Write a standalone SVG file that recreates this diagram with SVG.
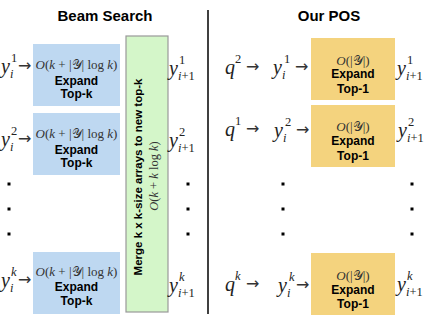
<svg xmlns="http://www.w3.org/2000/svg" width="428" height="321" viewBox="0 0 428 321">
<style>
.title{font-family:"Liberation Sans",Arial,sans-serif;font-weight:bold;font-size:15px;fill:#000;text-anchor:middle}
.lbl{font-family:"Liberation Sans",Arial,sans-serif;font-weight:bold;font-size:12px;fill:#000;text-anchor:middle}
.m{font-family:"Liberation Serif","DejaVu Serif",serif;fill:#222}
.mi{font-style:italic}
.big{font-size:20px}
.sm{font-size:12.5px}
.fx{font-size:13px;text-anchor:middle;fill:#333}
.arr{font-family:"DejaVu Sans","Liberation Serif",sans-serif;font-size:16px;fill:#333}
.blue{fill:#bed8f1}
.yel{fill:#f4d37e}
.dot{fill:#000}
</style>
<text class="title" x="105" y="21">Beam Search</text>
<text class="title" x="329" y="21">Our POS</text>
<g id="divider"><line x1="208" y1="10" x2="208" y2="314" stroke="#000" stroke-width="1.5"/></g>

<g id="merge">
<rect x="126" y="36" width="42" height="276" fill="#d4f6c9" stroke="#999" stroke-width="1.2"/>
<text class="lbl" style="font-size:11.5px" transform="translate(142,177) rotate(-90)" x="0" y="0">Merge k x k-size arrays to new top-k</text>
<text class="m fx" style="font-size:12.5px" transform="translate(158,176) rotate(-90)" x="0" y="0"><tspan class="mi">O</tspan>(<tspan class="mi">k</tspan> + <tspan class="mi">k</tspan> log <tspan class="mi">k</tspan>)</text>
</g>

<g id="beam1">
<rect class="blue" x="33" y="44" width="87" height="62"/>
<text class="m fx" x="76.5" y="69"><tspan class="mi">O</tspan>(<tspan class="mi">k</tspan> + |𝒴| log <tspan class="mi">k</tspan>)</text>
<text class="lbl" x="76.5" y="85">Expand</text>
<text class="lbl" x="76.5" y="98">Top-k</text>
</g>
<g id="beam2">
<rect class="blue" x="33" y="113" width="87" height="62"/>
<text class="m fx" x="76.5" y="138"><tspan class="mi">O</tspan>(<tspan class="mi">k</tspan> + |𝒴| log <tspan class="mi">k</tspan>)</text>
<text class="lbl" x="76.5" y="154">Expand</text>
<text class="lbl" x="76.5" y="167">Top-k</text>
</g>
<g id="beam3">
<rect class="blue" x="33" y="252" width="87" height="62"/>
<text class="m fx" x="76.5" y="276"><tspan class="mi">O</tspan>(<tspan class="mi">k</tspan> + |𝒴| log <tspan class="mi">k</tspan>)</text>
<text class="lbl" x="76.5" y="291">Expand</text>
<text class="lbl" x="76.5" y="305">Top-k</text>
</g>

<g id="pos1">
<rect class="yel" x="311" y="38" width="84" height="62"/>
<text class="m fx" x="353" y="65"><tspan class="mi">O</tspan>(|𝒴|)</text>
<text class="lbl" x="353" y="78">Expand</text>
<text class="lbl" x="353" y="93">Top-1</text>
</g>
<g id="pos2">
<rect class="yel" x="311" y="105" width="84" height="62"/>
<text class="m fx" x="353" y="131"><tspan class="mi">O</tspan>(|𝒴|)</text>
<text class="lbl" x="353" y="145">Expand</text>
<text class="lbl" x="353" y="160">Top-1</text>
</g>
<g id="pos3">
<rect class="yel" x="311" y="253" width="84" height="62"/>
<text class="m fx" x="353" y="280"><tspan class="mi">O</tspan>(|𝒴|)</text>
<text class="lbl" x="353" y="294">Expand</text>
<text class="lbl" x="353" y="308">Top-1</text>
</g>

<!-- beam input labels -->
<g id="in1"><text class="m mi big" x="1" y="73">y</text><text class="m sm" x="11" y="62">1</text><text class="m mi sm" x="10" y="78">i</text><text class="arr" x="18" y="71">→</text></g>
<g id="in2"><text class="m mi big" x="1" y="146">y</text><text class="m sm" x="11" y="135">2</text><text class="m mi sm" x="10" y="151">i</text><text class="arr" x="18" y="144">→</text></g>
<g id="in3"><text class="m mi big" x="1" y="287">y</text><text class="m mi sm" x="11" y="276">k</text><text class="m mi sm" x="10" y="292">i</text><text class="arr" x="18" y="285">→</text></g>

<!-- beam output labels -->
<g id="out1"><text class="m mi big" x="169" y="75">y</text><text class="m sm" x="179" y="64">1</text><text class="m mi sm" x="178" y="80">i<tspan font-style="normal">+1</tspan></text></g>
<g id="out2"><text class="m mi big" x="169" y="147">y</text><text class="m sm" x="179" y="136">2</text><text class="m mi sm" x="178" y="152">i<tspan font-style="normal">+1</tspan></text></g>
<g id="out3"><text class="m mi big" x="169" y="292">y</text><text class="m mi sm" x="179" y="281">k</text><text class="m mi sm" x="178" y="297">i<tspan font-style="normal">+1</tspan></text></g>

<!-- POS input labels -->
<g id="q1"><text class="m mi big" x="225" y="74">q</text><text class="m sm" x="235" y="63">2</text><text class="arr" x="246" y="72">→</text>
<text class="m mi big" x="273" y="74">y</text><text class="m sm" x="284" y="63">1</text><text class="m mi sm" x="282" y="79">i</text><text class="arr" x="295" y="72">→</text></g>
<g id="q2"><text class="m mi big" x="225" y="136">q</text><text class="m sm" x="235" y="125">1</text><text class="arr" x="246" y="134">→</text>
<text class="m mi big" x="274" y="137">y</text><text class="m sm" x="285" y="126">2</text><text class="m mi sm" x="283" y="142">i</text><text class="arr" x="296" y="135">→</text></g>
<g id="q3"><text class="m mi big" x="225" y="291">q</text><text class="m mi sm" x="235" y="280">k</text><text class="arr" x="246" y="289">→</text>
<text class="m mi big" x="278" y="292">y</text><text class="m mi sm" x="289" y="281">k</text><text class="m mi sm" x="287" y="297">i</text><text class="arr" x="296" y="290">→</text></g>

<!-- POS output labels -->
<g id="pout1"><text class="m mi big" x="397" y="75">y</text><text class="m sm" x="407" y="64">1</text><text class="m mi sm" x="406" y="80">i<tspan font-style="normal">+1</tspan></text></g>
<g id="pout2"><text class="m mi big" x="398" y="137">y</text><text class="m sm" x="408" y="126">2</text><text class="m mi sm" x="407" y="142">i<tspan font-style="normal">+1</tspan></text></g>
<g id="pout3"><text class="m mi big" x="397" y="291">y</text><text class="m mi sm" x="407" y="280">k</text><text class="m mi sm" x="406" y="296">i<tspan font-style="normal">+1</tspan></text></g>

<g id="dots">
<rect class="dot" x="7.5" y="182.5" width="3" height="3"/><rect class="dot" x="7.5" y="207.5" width="3" height="3"/><rect class="dot" x="7.5" y="232.5" width="3" height="3"/>
<rect class="dot" x="186.5" y="182.5" width="3" height="3"/><rect class="dot" x="186.5" y="207.5" width="3" height="3"/><rect class="dot" x="186.5" y="232.5" width="3" height="3"/>
<rect class="dot" x="281.5" y="182.5" width="3" height="3"/><rect class="dot" x="281.5" y="207.5" width="3" height="3"/><rect class="dot" x="281.5" y="232.5" width="3" height="3"/>
<rect class="dot" x="410.5" y="182.5" width="3" height="3"/><rect class="dot" x="410.5" y="207.5" width="3" height="3"/><rect class="dot" x="410.5" y="232.5" width="3" height="3"/>
</g>
</svg>
